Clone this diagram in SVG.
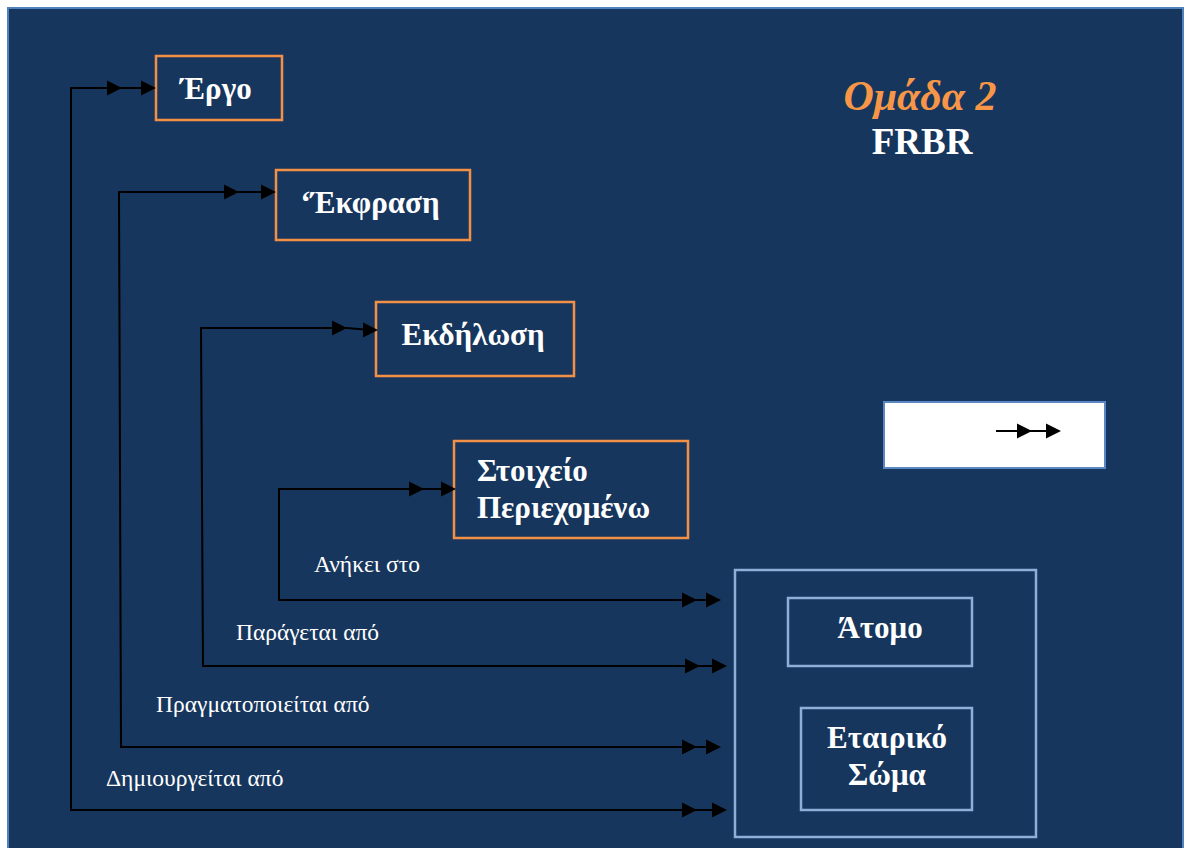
<svg xmlns="http://www.w3.org/2000/svg" xmlns:xlink="http://www.w3.org/1999/xlink" width="1184" height="848" viewBox="0 0 1184 848">
<style>
.conn{fill:none;stroke:#000;stroke-width:2}
.ent{fill:none;stroke:#f29146;stroke-width:2.5}
.agent{fill:none;stroke:#8eb0d8;stroke-width:2.5}
.t{font-family:"Liberation Serif","Times New Roman",serif;font-weight:bold;fill:#fff;font-size:31px}
.lbl{font-family:"Liberation Serif","Times New Roman",serif;fill:#fff;font-size:23.5px}
</style>
<defs>
<path id="ah" d="M0,0 L-15,-7.5 L-15,7.5 Z" fill="#000"/>
</defs>
<rect x="0" y="0" width="1184" height="848" fill="#fff"/>
<rect x="8" y="8" width="1175" height="860" fill="#17365d" stroke="#4f81bd" stroke-width="2"/>

<g id="title">
<text x="920" y="110" text-anchor="middle" font-family="Liberation Serif,serif" font-weight="bold" font-style="italic" font-size="42" fill="#f79646">Ομάδα 2</text>
<text x="922" y="154" text-anchor="middle" font-family="Liberation Serif,serif" font-weight="bold" font-size="37" fill="#fff">FRBR</text>
</g>

<g id="ergo">
<rect class="ent" x="156" y="56" width="126" height="64"/>
<text class="t" x="216" y="99" text-anchor="middle">Έργο</text>
</g>
<g id="ekfrasi">
<rect class="ent" x="276" y="170" width="194" height="70"/>
<text class="t" x="370" y="213" text-anchor="middle">‘Έκφραση</text>
</g>
<g id="ekdilosi">
<rect class="ent" x="376" y="302" width="198" height="74"/>
<text class="t" x="473" y="345" text-anchor="middle">Εκδήλωση</text>
</g>
<g id="stoixeio">
<rect class="ent" x="454" y="441" width="234" height="97"/>
<text class="t" x="477" y="481">Στοιχείο</text>
<text class="t" x="477" y="518">Περιεχομένω</text>
</g>

<g id="legend">
<rect x="884" y="402" width="221" height="66" fill="#fff" stroke="#5b87c5" stroke-width="2"/>
<line x1="996" y1="431" x2="1055" y2="431" stroke="#000" stroke-width="2"/>
<use xlink:href="#ah" x="1032" y="431"/>
<use xlink:href="#ah" x="1061" y="431"/>
</g>

<g id="agents">
<rect class="agent" x="735" y="570" width="301" height="267"/>
<g id="atomo">
<rect class="agent" x="788" y="598" width="184" height="68"/>
<text class="t" x="880" y="638" text-anchor="middle">Άτομο</text>
</g>
<g id="etairiko">
<rect class="agent" x="801" y="708" width="171" height="102"/>
<text class="t" x="887" y="748" text-anchor="middle">Εταιρικό</text>
<text class="t" x="887" y="785" text-anchor="middle">Σώμα</text>
</g>
</g>

<g id="connectors">
<polyline class="conn" points="150,88 71,88 71,810 720,810"/>
<use xlink:href="#ah" x="122" y="88"/>
<use xlink:href="#ah" x="156" y="88"/>
<use xlink:href="#ah" x="697" y="810"/>
<use xlink:href="#ah" x="727" y="810"/>

<polyline class="conn" points="270,192 119,192 121,747 715,747"/>
<use xlink:href="#ah" x="239" y="192"/>
<use xlink:href="#ah" x="276" y="192"/>
<use xlink:href="#ah" x="697" y="747"/>
<use xlink:href="#ah" x="721" y="747"/>

<polyline class="conn" points="370,330 347,328 201,328 203,666 720,666"/>
<use xlink:href="#ah" x="347" y="328"/>
<use xlink:href="#ah" x="378" y="330"/>
<use xlink:href="#ah" x="700" y="666"/>
<use xlink:href="#ah" x="727" y="666"/>

<polyline class="conn" points="450,489 279,489 279,600 715,600"/>
<use xlink:href="#ah" x="424" y="489"/>
<use xlink:href="#ah" x="456" y="489"/>
<use xlink:href="#ah" x="697" y="600"/>
<use xlink:href="#ah" x="721" y="600"/>

<text class="lbl" x="314" y="572">Ανήκει στο</text>
<text class="lbl" x="236" y="640">Παράγεται από</text>
<text class="lbl" x="156" y="712">Πραγματοποιείται από</text>
<text class="lbl" x="106" y="786">Δημιουργείται από</text>
</g>
</svg>
